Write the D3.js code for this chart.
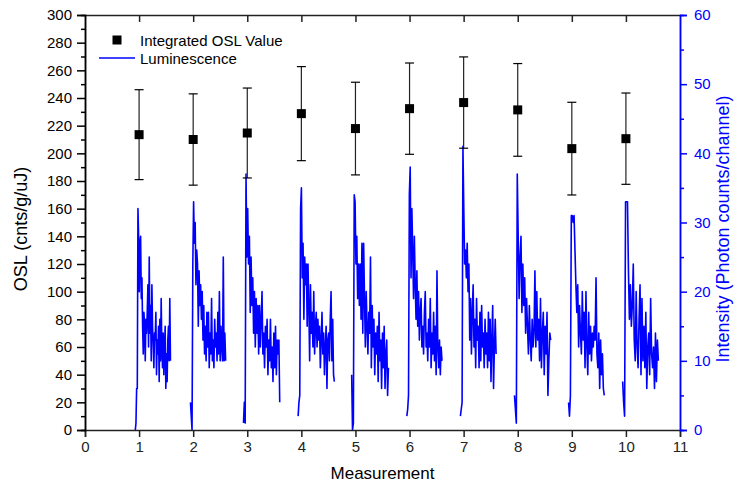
<!DOCTYPE html>
<html><head><meta charset="utf-8"><style>
body { margin: 0; background: #fff; }
svg { font-family: Arial, "Liberation Sans", sans-serif; }
.axis .domain { stroke-width: 1.5px; }
</style>
</head>
<body>
<svg width="735" height="490"></svg>
<script src="https://cdn.jsdelivr.net/npm/d3@7"></script>
<script>

// integrated OSL per measurement (left axis)
var measurements = [1, 2, 3, 4, 5, 6, 7, 8, 9, 10];
var oslValue = [213.5, 210, 214.7, 228.7, 217.9, 232.3, 236.7, 231.4, 203.4, 210.6];
var oslError = [32.5, 33, 32.5, 34, 33.5, 33, 33, 33.5, 33.5, 33];

// luminescence decay curves (right axis), one run per measurement
var lumStart = [0.93, 1.95, 2.93, 3.94, 4.93, 5.95, 6.94, 7.94, 8.94, 9.94];
var lumEnd = [1.58, 2.60, 3.60, 4.61, 5.61, 6.60, 7.60, 8.61, 9.60, 10.60];
var lum1 = [0, 1, 6, 6, 32, 28, 20, 27, 28, 19, 22, 15, 11, 17, 15, 10, 16, 14, 17, 21, 12, 25, 14, 18, 10, 21, 15, 12, 9, 14, 13, 17, 8, 13, 11, 15, 7, 16, 10, 19, 12, 9, 14, 8, 12, 15, 6, 11, 7, 13, 15, 10, 19, 10];
var lum2 = [4, 2, 0, 24, 33, 27, 30, 21, 26, 24, 15, 23, 18, 21, 16, 20, 13, 18, 11, 15, 10, 17, 12, 17, 9, 14, 11, 19, 10, 13, 9, 16, 12, 14, 10, 17, 11, 20, 10, 15, 12, 10, 25, 10, 14, 10];
var lum3 = [1, 4, 1, 37, 25, 32, 24, 28, 17, 25, 18, 22, 14, 20, 12, 19, 14, 18, 11, 18, 12, 16, 20, 11, 14, 9, 15, 12, 16, 8, 13, 10, 16, 9, 12, 7, 14, 9, 15, 8, 13, 11, 13, 4];
var lum4 = [2, 4, 5, 32, 35, 22, 27, 16, 25, 21, 24, 15, 24, 18, 10, 21, 14, 17, 12, 20, 11, 15, 17, 12, 16, 13, 15, 9, 13, 17, 11, 14, 8, 12, 15, 6, 13, 14, 10, 16, 20, 10, 16, 8, 7];
var lum5 = [8, 0, 1, 34, 33, 24, 28, 19, 24, 18, 24, 16, 27, 14, 27, 19, 12, 20, 15, 11, 17, 14, 25, 9, 18, 12, 16, 8, 14, 11, 15, 7, 17, 10, 13, 6, 14, 9, 15, 6, 11, 13, 5, 9];
var lum6 = [2, 3, 5, 34, 38, 22, 32, 26, 19, 28, 21, 16, 23, 15, 20, 13, 17, 19, 12, 15, 11, 17, 20, 12, 14, 10, 16, 12, 19, 9, 14, 11, 17, 10, 15, 8, 23, 12, 9, 13, 8, 12, 10];
var lum7 = [2, 3, 4, 41, 32, 24, 26, 22, 27, 20, 24, 13, 19, 11, 17, 21, 12, 16, 9, 19, 13, 15, 9, 17, 10, 18, 12, 14, 9, 16, 11, 14, 9, 17, 10, 16, 7, 13, 18, 6, 12, 16, 11];
var lum8 = [5, 3, 1, 37, 28, 19, 25, 28, 17, 24, 18, 22, 14, 19, 15, 11, 18, 13, 10, 16, 12, 14, 23, 12, 20, 13, 16, 10, 19, 9, 14, 17, 8, 15, 11, 17, 5, 10, 14, 13];
var lum9 = [4, 2, 5, 31, 31, 30, 31, 26, 21, 17, 21, 12, 18, 14, 11, 20, 13, 17, 9, 20, 12, 8, 17, 11, 15, 10, 14, 12, 15, 13, 22, 11, 9, 14, 6, 13, 8, 11, 6, 5];
var lum10 = [7, 4, 2, 33, 33, 33, 23, 16, 21, 15, 18, 24, 13, 10, 20, 12, 9, 16, 21, 8, 19, 10, 15, 9, 17, 6, 12, 14, 8, 19, 11, 9, 12, 6, 14, 7, 13, 10];
var lumRuns = [lum1, lum2, lum3, lum4, lum5, lum6, lum7, lum8, lum9, lum10];

var xTicks = d3.range(0, 12);
var leftTicks = d3.range(0, 301, 20);
var leftMinor = d3.range(10, 300, 20);
var rightTicks = d3.range(0, 61, 10);
var rightMinor = d3.range(5, 60, 10);

var svg = d3.select("svg"),
    plotLeft = 85, plotRight = 680, plotTop = 15, plotBottom = 430;

var x = d3.scaleLinear().domain([0, 11]).range([plotLeft, plotRight]);
var y = d3.scaleLinear().domain([0, 300]).range([plotBottom, plotTop]);
var y2 = d3.scaleLinear().domain([0, 60]).range([plotBottom, plotTop]);

// luminescence traces
var line = d3.line()
    .x(function(d) { return x(d[0]); })
    .y(function(d) { return y2(d[1]); });

lumRuns.forEach(function(run, i) {
  var step = (lumEnd[i] - lumStart[i]) / (run.length - 1);
  var pts = run.map(function(v, k) { return [lumStart[i] + k * step, v]; });
  svg.append("path")
      .datum(pts)
      .attr("fill", "none")
      .attr("stroke", "#0000ff")
      .attr("stroke-width", 1.6)
      .attr("stroke-linejoin", "round")
      .attr("d", line);
});

// error bars + markers
var pts = svg.append("g").selectAll("g")
    .data(measurements)
    .enter().append("g");

pts.append("line")
    .attr("x1", function(d) { return x(d); })
    .attr("x2", function(d) { return x(d); })
    .attr("y1", function(d, i) { return y(oslValue[i] - oslError[i]); })
    .attr("y2", function(d, i) { return y(oslValue[i] + oslError[i]); })
    .attr("stroke", "#222")
    .attr("stroke-width", 1.2);

[-1, 1].forEach(function(s) {
  pts.append("line")
      .attr("x1", function(d) { return x(d) - 4.5; })
      .attr("x2", function(d) { return x(d) + 4.5; })
      .attr("y1", function(d, i) { return y(oslValue[i] + s * oslError[i]); })
      .attr("y2", function(d, i) { return y(oslValue[i] + s * oslError[i]); })
      .attr("stroke", "#000")
      .attr("stroke-width", 1.2);
});

pts.append("rect")
    .attr("x", function(d) { return x(d) - 4.5; })
    .attr("y", function(d, i) { return y(oslValue[i]) - 4.5; })
    .attr("width", 9)
    .attr("height", 9)
    .attr("fill", "#000");

// axes
function styleAxis(g, color, size) {
  g.attr("class", "axis").attr("font-size", size).attr("font-family", null);
  g.selectAll("line, path").attr("stroke", color).attr("stroke-width", 1.5);
  g.selectAll("text").attr("fill", color);
}

svg.append("g")
    .attr("transform", "translate(0," + plotBottom + ")")
    .call(d3.axisBottom(x).tickValues(xTicks).tickSize(7).tickPadding(4).tickFormat(d3.format("d")))
    .call(styleAxis, "#222", 15);

svg.append("g")
    .attr("transform", "translate(0," + plotTop + ")")
    .call(d3.axisTop(x).tickValues(xTicks.slice(1, 11)).tickSizeInner(-7).tickSizeOuter(0).tickFormat(""))
    .call(styleAxis, "#222", 15);

svg.append("g")
    .attr("transform", "translate(" + plotLeft + ",0)")
    .call(d3.axisLeft(y).tickValues(leftMinor).tickSize(4).tickFormat(""))
    .call(styleAxis, "#000", 15);

svg.append("g")
    .attr("transform", "translate(" + plotLeft + ",0)")
    .call(d3.axisLeft(y).tickValues(leftTicks).tickSize(8).tickPadding(5))
    .call(styleAxis, "#000", 15);

svg.append("g")
    .attr("transform", "translate(" + plotRight + ",0)")
    .call(d3.axisRight(y2).tickValues(rightMinor).tickSize(4).tickFormat(""))
    .call(styleAxis, "#0000ff", 15);

svg.append("g")
    .attr("transform", "translate(" + plotRight + ",0)")
    .call(d3.axisRight(y2).tickValues(rightTicks).tickSize(7).tickPadding(7))
    .call(styleAxis, "#0000ff", 15);

// titles
svg.append("text")
    .attr("x", (plotLeft + plotRight) / 2)
    .attr("y", 479)
    .attr("text-anchor", "middle")
    .attr("font-size", 17)
    .text("Measurement");

svg.append("text")
    .attr("transform", "translate(27,229) rotate(-90)")
    .attr("text-anchor", "middle")
    .attr("font-size", 18)
    .text("OSL (cnts/g/uJ)");

svg.append("text")
    .attr("transform", "translate(729,229) rotate(-90)")
    .attr("text-anchor", "middle")
    .attr("font-size", 18)
    .attr("fill", "#0000ff")
    .text("Intensity (Photon counts/channel)");

// legend
var legend = svg.append("g").attr("font-size", 15);
legend.append("rect")
    .attr("x", 112.5).attr("y", 35.5)
    .attr("width", 9).attr("height", 9)
    .attr("fill", "#000");
legend.append("text")
    .attr("x", 140).attr("y", 45.5)
    .text("Integrated OSL Value");
legend.append("line")
    .attr("x1", 99).attr("x2", 135)
    .attr("y1", 58).attr("y2", 58)
    .attr("stroke", "#0000ff").attr("stroke-width", 1.6);
legend.append("text")
    .attr("x", 140).attr("y", 64)
    .text("Luminescence");

</script>
</body></html>
